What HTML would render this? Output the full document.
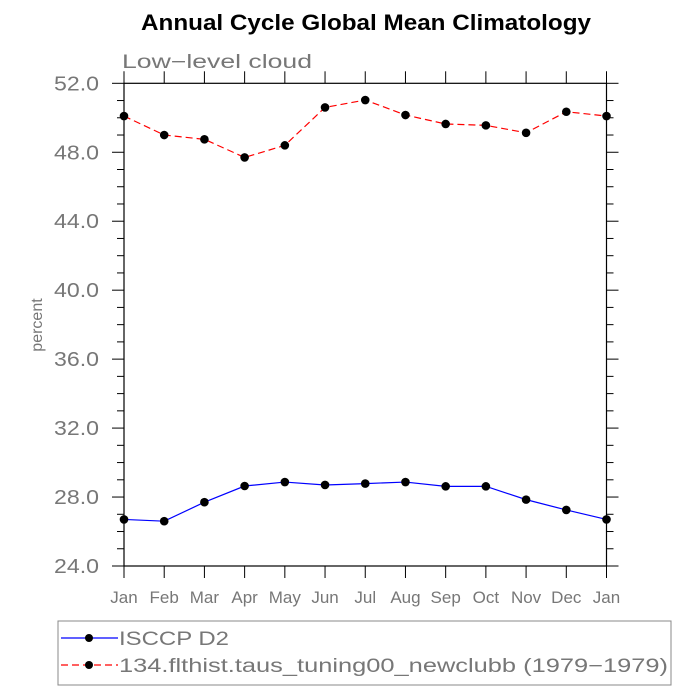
<!DOCTYPE html>
<html><head><meta charset="utf-8"><style>
html,body{margin:0;padding:0;background:#fff;}
svg{display:block;font-family:"Liberation Sans","DejaVu Sans",sans-serif;}
</style></head><body>
<svg id="chart" width="700" height="700">
<text x="366" y="30" text-anchor="middle" font-size="22" font-weight="bold" fill="#000" textLength="450" lengthAdjust="spacingAndGlyphs">Annual Cycle Global Mean Climatology</text>
<text x="122" y="68" font-size="19" fill="#777" textLength="190" lengthAdjust="spacingAndGlyphs">Low−level cloud</text>
<text transform="translate(42,325) rotate(-90)" text-anchor="middle" font-size="16" fill="#777">percent</text>
<g id="axes"></g>
<g id="series"></g>
<rect x="58" y="621" width="613" height="64" fill="none" stroke="#888" stroke-width="1"/>
<g>
<line x1="61" y1="638" x2="118" y2="638" stroke="#0000ff" stroke-width="1.2"/>
<circle cx="89" cy="638" r="4" fill="#000"/>
<text x="119" y="645" font-size="19" fill="#777" textLength="110" lengthAdjust="spacingAndGlyphs">ISCCP D2</text>
</g>
<g>
<line x1="61" y1="665" x2="118" y2="665" stroke="#ff0000" stroke-width="1.2" stroke-dasharray="7,4"/>
<circle cx="89" cy="665" r="4" fill="#000"/>
<text x="119" y="672" font-size="19" fill="#777" textLength="549" lengthAdjust="spacingAndGlyphs">134.flthist.taus_tuning00_newclubb (1979−1979)</text>
</g>
</svg>
<script>
const months = ["Jan","Feb","Mar","Apr","May","Jun","Jul","Aug","Sep","Oct","Nov","Dec","Jan"];
const isccp = [26.7,26.6,27.7,28.64,28.87,28.7,28.78,28.87,28.62,28.62,27.85,27.25,26.7];
const model = [50.1,49.0,48.75,47.7,48.4,50.6,51.03,50.16,49.64,49.56,49.13,50.35,50.1];
const yTicks = [24,28,32,36,40,44,48,52];
const yTickLabels = ["24.0","28.0","32.0","36.0","40.0","44.0","48.0","52.0"];
const yMin = 24, yMax = 52;

const L=124, R=606.5, T=83.3, B=566;
const NS="http://www.w3.org/2000/svg";
function xs(i){return L+(R-L)*i/(months.length-1);}
function ys(v){return B-(B-T)*(v-yMin)/(yMax-yMin);}
function mk(tag,attrs,parent){const e=document.createElementNS(NS,tag);for(const k in attrs)e.setAttribute(k,attrs[k]);parent.appendChild(e);return e;}
const ax=document.getElementById('axes');
const fr=mk('rect',{x:L,y:T,width:R-L,height:B-T,fill:'none',stroke:'#000','stroke-width':1.2},ax);


for(let i=0;i<months.length;i++){
  const x=xs(i);
  const t1=mk('line',{x1:x,y1:B,x2:x,y2:B+12,stroke:'#000','stroke-width':1},ax);
  
  
  const t2=mk('line',{x1:x,y1:T,x2:x,y2:T-12,stroke:'#000','stroke-width':1},ax);
  
  
  const tx=mk('text',{x:x,y:B+37,'text-anchor':'middle','font-size':17,fill:'#777'},ax);
  tx.textContent=months[i];
  
  
}
for(let v=yMin;v<=yMax;v++){
  const y=ys(v);const major=(v-yMin)%4===0;const len=major?12:7;
  const a=mk('line',{x1:L-len,y1:y,x2:L,y2:y,stroke:'#000','stroke-width':1},ax);
  
  
  const b=mk('line',{x1:R,y1:y,x2:R+len,y2:y,stroke:'#000','stroke-width':1},ax);
  
  
}
yTicks.forEach((v,i)=>{
  const t=mk('text',{x:99,y:ys(v)+7,'text-anchor':'end','font-size':20,fill:'#777',textLength:45,lengthAdjust:'spacingAndGlyphs'},ax);
  t.textContent=yTickLabels[i];
  
  
});
const sg=document.getElementById('series');
function draw(data,color,dash,name){
  const pts=data.map((v,i)=>xs(i)+','+ys(v)).join(' ');
  const pl=mk('polyline',{points:pts,fill:'none',stroke:color,'stroke-width':1.2},sg);
  if(dash)pl.setAttribute('stroke-dasharray',dash);
  
  
  data.forEach((v,i)=>{
    const c=mk('circle',{cx:xs(i),cy:ys(v),r:4.3,fill:'#000'},sg);
    
    
  });
}
draw(isccp,'#0000ff',null,'isccp');
draw(model,'#ff0000','7,4','model');
</script>
</body></html>
